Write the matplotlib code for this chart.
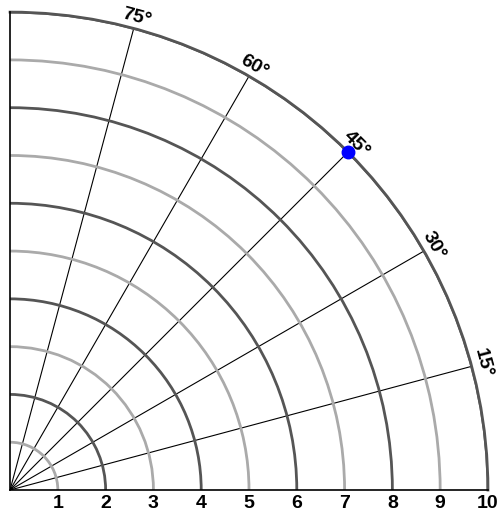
import matplotlib
matplotlib.use('Agg')
import matplotlib.pyplot as plt
from matplotlib.ticker import FixedLocator
from matplotlib import font_manager
import numpy as np

angle_ticks = [15, 30, 45, 60, 75]
angle_labels = ['15°', '30°', '45°', '60°', '75°']
radial_ticks = [1, 2, 3, 4, 5, 6, 7, 8, 9, 10]
radial_labels = ['1', '2', '3', '4', '5', '6', '7', '8', '9', '10']
major_circles = [2, 4, 6, 8, 10]
minor_circles = [1, 3, 5, 7, 9]
point_theta = [45]
point_r = [10]

bold_font = font_manager.FontProperties(family=['Liberation Sans', 'DejaVu Sans'],
                                        weight='bold', size=14)

fig = plt.figure(figsize=(5, 5.15), dpi=100)
ax = fig.add_axes([0.02, 0.0485, 0.956, 0.928], projection='polar')
ax.set_thetamin(0)
ax.set_thetamax(90)
ax.set_rlim(0, 10)
ax.yaxis.set_major_locator(FixedLocator(major_circles))
ax.yaxis.set_minor_locator(FixedLocator(minor_circles))
ax.set_yticklabels([])
ax.set_thetagrids(angle_ticks, labels=[''] * len(angle_ticks))
ax.tick_params(length=0, which='both')

ax.grid(True, axis='x', color='black', linewidth=0.8, linestyle='-')
ax.grid(True, axis='y', which='major', color='#555555', linewidth=2, linestyle='-')
ax.grid(True, axis='y', which='minor', color='#aaaaaa', linewidth=2, linestyle='-')

ax.spines['polar'].set_color('#555555')
ax.spines['polar'].set_linewidth(2)
ax.spines['start'].set_color('black')
ax.spines['start'].set_linewidth(1.2)
ax.spines['end'].set_color('black')
ax.spines['end'].set_linewidth(1.2)

for a, lab in zip(angle_ticks, angle_labels):
    ax.text(np.deg2rad(a), 10.24, lab, rotation=a - 90, rotation_mode='anchor',
            ha='center', va='center', fontproperties=bold_font, color='black')

for r, lab in zip(radial_ticks, radial_labels):
    ax.annotate(lab, xy=(0, r), xytext=(0, -10), textcoords='offset points',
                ha='center', va='center', fontproperties=bold_font,
                color='black', annotation_clip=False)

ax.plot(np.deg2rad(point_theta), point_r, 'o', color='blue', ms=9,
        clip_on=False, zorder=5)

fig.savefig('out.png', dpi=100)
